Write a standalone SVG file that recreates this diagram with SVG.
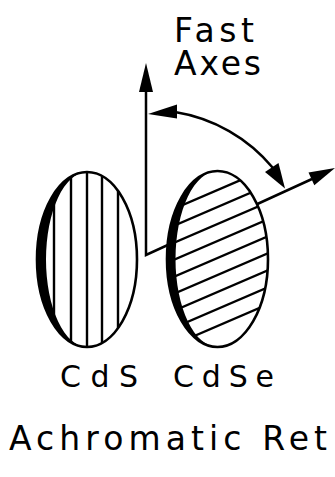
<svg xmlns="http://www.w3.org/2000/svg" width="335" height="477" viewBox="0 0 335 477">
<style>
.ln{stroke:#000;stroke-width:2.5;fill:none;stroke-linecap:butt}
.hatch{stroke:#000;stroke-width:2.4;fill:none}
.outline{stroke:#000;stroke-width:2.6;fill:none}
.head{fill:#000;stroke:none}
.lbl{font-family:"DejaVu Sans","Liberation Sans",sans-serif;fill:#000}
</style>
<defs>
<clipPath id="clipCds"><ellipse cx="87" cy="259.5" rx="50" ry="87.5"/></clipPath>
<clipPath id="clipCdse"><ellipse cx="217.5" cy="259" rx="50.5" ry="88"/></clipPath>
</defs>
<rect width="335" height="477" fill="#fff"/>
<g id="connectors">
<path class="ln" d="M146,91 L146,255 L312,179"/>
<polygon class="head" points="146,63 139,92 153,92"/>
<polygon class="head" points="335,168 308.5,172.5 314.3,185.3"/>
<path class="ln" d="M175,112 A160,160 0 0 1 273,168"/>
<polygon class="head" points="148,114 177,104.5 177,118.5"/>
<polygon class="head" points="285,188.5 265,172 278.5,163"/>
</g>
<g id="cds">
<ellipse cx="87" cy="259.5" rx="50" ry="87.5" fill="#fff"/>
<g clip-path="url(#clipCds)">
<line class="hatch" x1="54" y1="165" x2="54" y2="355"/>
<line class="hatch" x1="71" y1="165" x2="71" y2="355"/>
<line class="hatch" x1="87" y1="165" x2="87" y2="355" stroke-width="3.4"/>
<line class="hatch" x1="102" y1="165" x2="102" y2="355"/>
<line class="hatch" x1="118" y1="165" x2="118" y2="355"/>
</g>
<path class="head" d="M87,172 A50,87.5 0 0 0 87,347 A41,87.5 0 0 1 87,172 Z"/>
<ellipse class="outline" cx="87" cy="259.5" rx="50" ry="87.5"/>
</g>
<g id="cdse">
<ellipse cx="217.5" cy="259" rx="50.5" ry="88" fill="#fff"/>
<g clip-path="url(#clipCdse)">
<line class="hatch" x1="160" y1="214.7" x2="275" y2="165.3"/>
<line class="hatch" x1="160" y1="231.7" x2="275" y2="182.3"/>
<line class="hatch" x1="160" y1="248.7" x2="275" y2="199.3"/>
<line class="hatch" x1="160" y1="265.7" x2="275" y2="216.3"/>
<line class="hatch" x1="160" y1="282.7" x2="275" y2="233.3"/>
<line class="hatch" x1="160" y1="299.7" x2="275" y2="250.3"/>
<line class="hatch" x1="160" y1="316.7" x2="275" y2="267.3"/>
<line class="hatch" x1="160" y1="333.7" x2="275" y2="284.3"/>
<line class="hatch" x1="160" y1="350.7" x2="275" y2="301.3"/>
</g>
<path class="head" d="M217.5,171 A50.5,88 0 0 0 217.5,347 A42,88 0 0 1 217.5,171 Z"/>
<ellipse class="outline" cx="217.5" cy="259" rx="50.5" ry="88"/>
</g>
<g id="labels">
<text class="lbl" font-size="33"><tspan x="174" y="42" textLength="80" lengthAdjust="spacing">Fast</tspan><tspan x="174" y="75" textLength="87" lengthAdjust="spacing">Axes</tspan></text>
<text class="lbl" x="60" y="387" font-size="30" textLength="78" lengthAdjust="spacing">CdS</text>
<text class="lbl" x="173" y="387" font-size="30" textLength="101" lengthAdjust="spacing">CdSe</text>
<text class="lbl" x="9" y="450" font-size="33" textLength="318" lengthAdjust="spacing">Achromatic Ret</text>
</g>
</svg>
